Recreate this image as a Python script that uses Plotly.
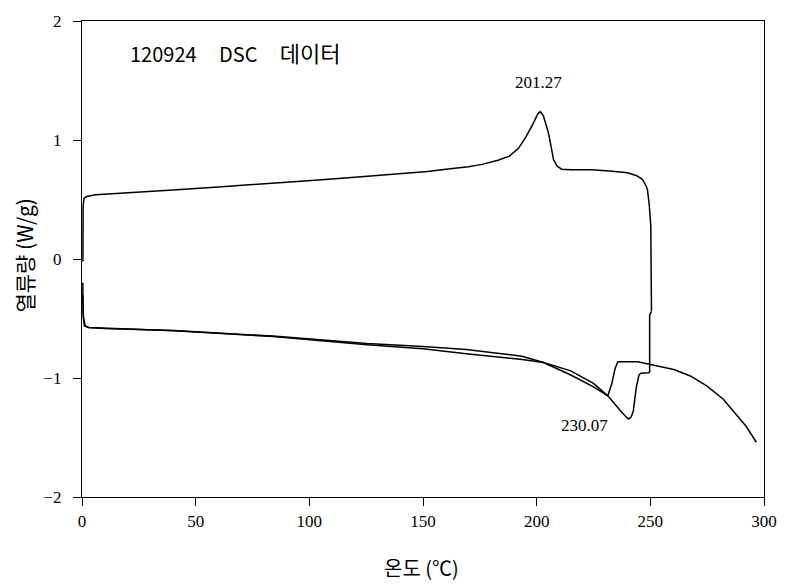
import plotly.graph_objects as go

# ---- data ----
heat1_x = [0.4, 0.35, 0.5, 0.9, 2, 6, 20, 40, 60, 80, 104, 120, 140, 152, 162, 170, 176, 183, 188,
           192, 195, 198, 200.5, 201.6, 203, 205.2, 206.5, 207.4, 209, 211, 215, 224, 232, 240,
           244, 246.5, 248, 248.7, 249.5, 250.2, 250.5]
heat1_y = [-0.02, 0.2, 0.45, 0.51, 0.525, 0.54, 0.555, 0.58, 0.605, 0.63, 0.664, 0.688, 0.717,
           0.735, 0.758, 0.775, 0.795, 0.83, 0.864, 0.93, 1.017, 1.12, 1.22, 1.239, 1.2, 1.058,
           0.93, 0.836, 0.78, 0.755, 0.75, 0.75, 0.74, 0.725, 0.7, 0.67, 0.62, 0.586, 0.46,
           0.28, -0.44]

cool_x = [250.5, 249.7, 249.7, 249.2, 245.8, 245.0, 243.8, 243.2, 242.5, 241.5, 240.3, 239, 237,
          234, 231.3, 225, 215, 203, 193.6, 169, 150, 125.4, 84, 40.5, 10, 3, 1, 0.5, 0.35]
cool_y = [-0.44, -0.47, -0.95, -0.955, -0.96, -0.975, -1.08, -1.19, -1.28, -1.33, -1.344, -1.32,
          -1.28, -1.21, -1.15, -1.045, -0.94, -0.87, -0.844, -0.797, -0.755, -0.72, -0.652,
          -0.603, -0.585, -0.575, -0.56, -0.45, -0.2]

heat2_x = [0.35, 0.6, 1.5, 3, 10, 40.5, 84, 125.4, 150, 169, 193.6, 203, 215, 225, 231.3, 233,
           234.5, 235.7, 244.4, 249.8, 260.3, 267.6, 274.8, 282.1, 286.4, 292.3, 296.6]
heat2_y = [-0.3, -0.5, -0.565, -0.575, -0.583, -0.6, -0.648, -0.711, -0.735, -0.761, -0.817,
           -0.87, -0.975, -1.075, -1.15, -1.05, -0.92, -0.864, -0.864, -0.886, -0.928, -0.983,
           -1.067, -1.178, -1.275, -1.41, -1.54]

x_ticks = [0, 50, 100, 150, 200, 250, 300]
y_ticks = [-2, -1, 0, 1, 2]

peak_labels = ["201.27", "230.07"]
peak_label_x = [201, 221]
peak_label_y = [1.48, -1.40]

title_parts = ["120924", "DSC", "데이터"]
x_title = "온도 (℃)"
y_title = "열류량 (W/g)"

# ---- figure ----
fig = go.Figure()
line_style = dict(color="black", width=1.5)
for xs, ys in [(heat1_x, heat1_y), (cool_x, cool_y), (heat2_x, heat2_y)]:
    fig.add_trace(go.Scatter(x=xs, y=ys, mode="lines", line=line_style,
                             showlegend=False, hoverinfo="skip"))

num_font = dict(family="Liberation Serif", size=17, color="black")
kor_font = dict(family="Noto Sans CJK KR", size=20, color="black")

annotations = []
for t, ax, ay in zip(peak_labels, peak_label_x, peak_label_y):
    annotations.append(dict(x=ax, y=ay, xref="x", yref="y", text=t, showarrow=False,
                            font=num_font))

gap = "&nbsp;" * 5
title_text = (title_parts[0] + gap + title_parts[1] + gap +
              "<span style='font-size:22px'>" + title_parts[2] + "</span>")
annotations.append(dict(x=(128 - 82) / 689, y=(497 - 48) / 480, xref="paper", yref="paper",
                        text=title_text, showarrow=False, xanchor="left", yanchor="middle",
                        font=dict(family="Noto Sans CJK KR", size=20, color="black")))
annotations.append(dict(x=0.498, y=(497 - 568) / 480, xref="paper", yref="paper",
                        text=x_title, showarrow=False, xanchor="center", yanchor="middle",
                        font=kor_font))
annotations.append(dict(x=(23 - 82) / 689, y=(497 - 254) / 480, xref="paper", yref="paper",
                        text=y_title, showarrow=False, xanchor="center", yanchor="middle",
                        textangle=-90,
                        font=dict(family="Noto Sans CJK KR", size=21, color="black")))

axis_common = dict(showline=True, linecolor="black", linewidth=1.3, mirror=True,
                   ticks="outside", ticklen=8, tickcolor="black", tickwidth=1.3,
                   showgrid=False, zeroline=False, tickfont=num_font)

fig.update_layout(
    width=789, height=587,
    margin=dict(l=82, r=18, t=17, b=90),
    paper_bgcolor="white", plot_bgcolor="white",
    xaxis=dict(range=[0, 300], tickvals=x_ticks, ticklabelstandoff=0, **axis_common),
    yaxis=dict(range=[-2, 2], tickvals=y_ticks, ticklabelstandoff=8, **axis_common),
    annotations=annotations,
)

fig.write_html("out.html")
